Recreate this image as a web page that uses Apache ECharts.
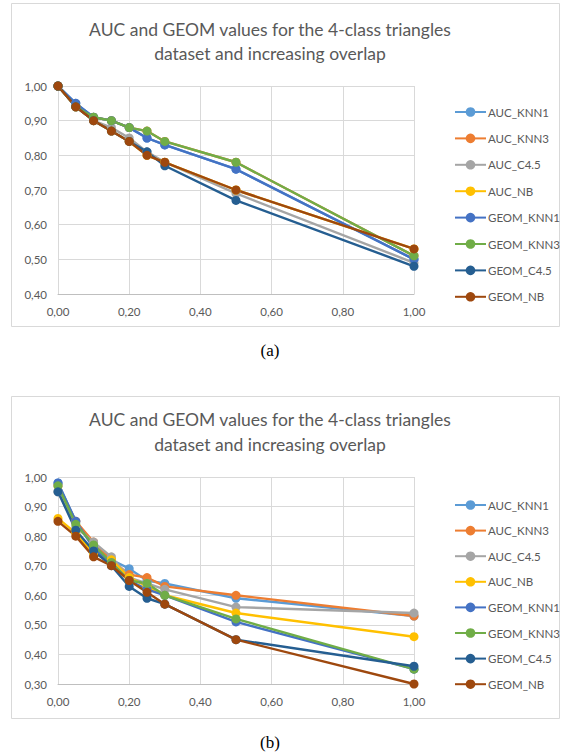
<!DOCTYPE html>
<html>
<head>
<meta charset="utf-8">
<script src="https://cdn.jsdelivr.net/npm/echarts@6/dist/echarts.min.js"></script>
<style>
html,body{margin:0;padding:0;background:#fff;}
#c{width:561px;height:755px;}
</style>
</head>
<body>
<div id="c"></div>
<script>
var overlap = [0, 0.05, 0.1, 0.15, 0.2, 0.25, 0.3, 0.5, 1.0];
var seriesNames = ['AUC_KNN1','AUC_KNN3','AUC_C4.5','AUC_NB','GEOM_KNN1','GEOM_KNN3','GEOM_C4.5','GEOM_NB'];
var colors = ['#5B9BD5','#ED7D31','#A5A5A5','#FFC000','#4472C4','#70AD47','#255E91','#9E480E'];
var xTicks = ['0,00','0,20','0,40','0,60','0,80','1,00'];

// chart (a)
var a_AUC_KNN1  = [1.00, 0.95, 0.91, 0.90, 0.88, 0.85, 0.83, 0.76, 0.50];
var a_AUC_KNN3  = [1.00, 0.94, 0.91, 0.90, 0.88, 0.87, 0.84, 0.78, 0.51];
var a_AUC_C45   = [1.00, 0.94, 0.90, 0.88, 0.85, 0.81, 0.78, 0.69, 0.49];
var a_AUC_NB    = [1.00, 0.94, 0.90, 0.87, 0.84, 0.80, 0.78, 0.70, 0.53];
var a_GEOM_KNN1 = [1.00, 0.95, 0.91, 0.90, 0.88, 0.85, 0.83, 0.76, 0.50];
var a_GEOM_KNN3 = [1.00, 0.94, 0.91, 0.90, 0.88, 0.87, 0.84, 0.78, 0.51];
var a_GEOM_C45  = [1.00, 0.94, 0.90, 0.87, 0.84, 0.81, 0.77, 0.67, 0.48];
var a_GEOM_NB   = [1.00, 0.94, 0.90, 0.87, 0.84, 0.80, 0.78, 0.70, 0.53];

// chart (b)
var b_AUC_KNN1  = [0.98, 0.85, 0.77, 0.72, 0.69, 0.65, 0.64, 0.59, 0.53];
var b_AUC_KNN3  = [0.97, 0.85, 0.78, 0.72, 0.67, 0.66, 0.63, 0.60, 0.53];
var b_AUC_C45   = [0.95, 0.83, 0.78, 0.73, 0.66, 0.64, 0.62, 0.56, 0.54];
var b_AUC_NB    = [0.86, 0.81, 0.74, 0.72, 0.66, 0.63, 0.60, 0.54, 0.46];
var b_GEOM_KNN1 = [0.98, 0.85, 0.76, 0.71, 0.65, 0.62, 0.60, 0.51, 0.35];
var b_GEOM_KNN3 = [0.97, 0.84, 0.77, 0.71, 0.65, 0.64, 0.60, 0.52, 0.35];
var b_GEOM_C45  = [0.95, 0.82, 0.75, 0.70, 0.63, 0.59, 0.57, 0.45, 0.36];
var b_GEOM_NB   = [0.85, 0.80, 0.73, 0.70, 0.65, 0.61, 0.57, 0.45, 0.30];

var titleLine1 = 'AUC and GEOM values for the 4-class triangles';
var titleLine2 = 'dataset and increasing overlap';

var dataA = [a_AUC_KNN1,a_AUC_KNN3,a_AUC_C45,a_AUC_NB,a_GEOM_KNN1,a_GEOM_KNN3,a_GEOM_C45,a_GEOM_NB];
var dataB = [b_AUC_KNN1,b_AUC_KNN3,b_AUC_C45,b_AUC_NB,b_GEOM_KNN1,b_GEOM_KNN3,b_GEOM_C45,b_GEOM_NB];

var FONT = 'Lato, "Open Sans", sans-serif';
var TXT = '#595959';
function fmt(v){ return v.toFixed(2).replace('.', ','); }

function xAxis(gi){
  return {
    type:'value', gridIndex:gi, min:0, max:1, interval:0.2,
    axisLine:{show:true, lineStyle:{color:'#bfbfbf', width:1}},
    axisTick:{show:false},
    splitLine:{show:true, lineStyle:{color:'#d9d9d9', width:1}},
    axisLabel:{color:TXT, fontFamily:FONT, fontSize:11.5, margin:11, formatter:function(v){ return xTicks[Math.round(v/0.2)]; }}
  };
}
function yAxis(gi, mn){
  return {
    type:'value', gridIndex:gi, min:mn, max:1, interval:0.1,
    axisLine:{show:false}, axisTick:{show:false},
    splitLine:{show:true, lineStyle:{color:'#d9d9d9', width:1}},
    axisLabel:{color:TXT, fontFamily:FONT, fontSize:11.5, margin:11, formatter:fmt}
  };
}
function mkSeries(data, gi){
  return data.map(function(arr, i){
    return {
      name: seriesNames[i], type:'line', xAxisIndex:gi, yAxisIndex:gi,
      data: overlap.map(function(x, k){ return [x, arr[k]]; }),
      symbol:'circle', symbolSize:9,
      lineStyle:{width:2.4, color:colors[i]},
      itemStyle:{color:colors[i]},
      animation:false
    };
  });
}
function legend(top, gap){
  return {
    orient:'vertical', left:449, top:top, itemWidth:31, itemHeight:12, itemGap:gap,
    data: seriesNames,
    textStyle:{color:TXT, fontFamily:FONT, fontSize:11.5, padding:[0,0,0,-3]},
    selectedMode:false
  };
}

var chart = echarts.init(document.getElementById('c'), null, {renderer:'svg'});
chart.setOption({
  color: colors,
  animation:false,
  grid:[
    {left:58, right:147, top:86, height:208},
    {left:58, right:147, top:477, height:207}
  ],
  xAxis:[xAxis(0), xAxis(1)],
  yAxis:[yAxis(0, 0.4), yAxis(1, 0.3)],
  legend:[legend(101, 14.4), legend(494, 13.6)],
  series: mkSeries(dataA, 0).concat(mkSeries(dataB, 1)),
  graphic:[
    {type:'rect', z:-10, shape:{x:11.5, y:3.5, width:548, height:323}, style:{fill:'#fff', stroke:'#d9d9d9', lineWidth:1}},
    {type:'rect', z:-10, shape:{x:11.5, y:396.5, width:548, height:322}, style:{fill:'#fff', stroke:'#d9d9d9', lineWidth:1}},
    {type:'text', x:270, y:29, style:{text:titleLine1, fill:TXT, font:'17.5px '+FONT, textAlign:'center', textVerticalAlign:'middle'}},
    {type:'text', x:270, y:53, style:{text:titleLine2, fill:TXT, font:'17.5px '+FONT, textAlign:'center', textVerticalAlign:'middle'}},
    {type:'text', x:270, y:419, style:{text:titleLine1, fill:TXT, font:'17.5px '+FONT, textAlign:'center', textVerticalAlign:'middle'}},
    {type:'text', x:270, y:444, style:{text:titleLine2, fill:TXT, font:'17.5px '+FONT, textAlign:'center', textVerticalAlign:'middle'}},
    {type:'text', x:270, y:350, style:{text:'(a)', fill:'#000', font:'17px "Liberation Serif", serif', textAlign:'center', textVerticalAlign:'middle'}},
    {type:'text', x:270, y:742, style:{text:'(b)', fill:'#000', font:'17px "Liberation Serif", serif', textAlign:'center', textVerticalAlign:'middle'}}
  ]
});
</script>
</body>
</html>
